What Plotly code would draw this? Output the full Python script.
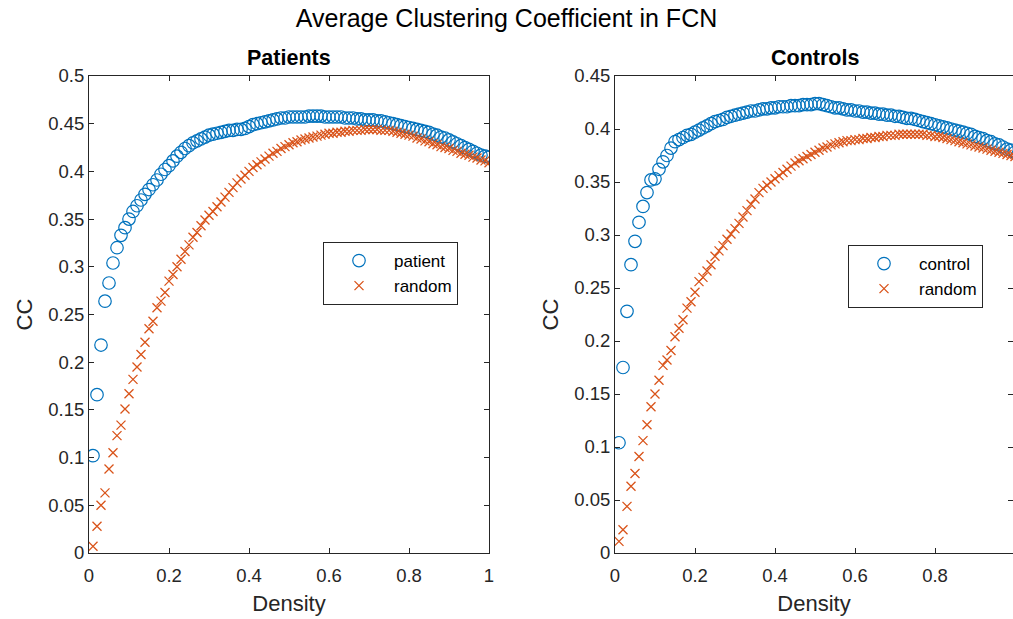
import plotly.graph_objects as go

density = [round(i * 0.01, 2) for i in range(1, 101)]

patient_cc = [
    0.102, 0.166, 0.218, 0.264, 0.283, 0.304, 0.320, 0.333, 0.341, 0.350,
    0.358, 0.364, 0.370, 0.376, 0.381, 0.386, 0.391, 0.397, 0.402, 0.406,
    0.411, 0.416, 0.420, 0.424, 0.427, 0.430, 0.432, 0.434, 0.436, 0.438,
    0.439, 0.440, 0.441, 0.442, 0.443, 0.443, 0.444, 0.444, 0.445, 0.447,
    0.449, 0.450, 0.451, 0.452, 0.453, 0.454, 0.455, 0.456, 0.456, 0.457,
    0.457, 0.457, 0.457, 0.457, 0.458, 0.458, 0.458, 0.458, 0.457, 0.457,
    0.457, 0.457, 0.457, 0.456, 0.456, 0.456, 0.455, 0.455, 0.454, 0.454,
    0.454, 0.453, 0.453, 0.452, 0.451, 0.450, 0.449, 0.448, 0.447, 0.446,
    0.445, 0.444, 0.443, 0.442, 0.441, 0.439, 0.438, 0.436, 0.435, 0.433,
    0.431, 0.429, 0.427, 0.425, 0.423, 0.421, 0.419, 0.417, 0.416, 0.415,
]

patient_random_cc = [
    0.007, 0.028, 0.050, 0.063, 0.088, 0.105, 0.123, 0.134, 0.151, 0.167,
    0.182, 0.195, 0.208, 0.221, 0.235, 0.243, 0.257, 0.264, 0.273, 0.285,
    0.292, 0.300, 0.308, 0.316, 0.323, 0.331, 0.336, 0.343, 0.349, 0.354,
    0.358, 0.363, 0.368, 0.373, 0.378, 0.383, 0.388, 0.392, 0.396, 0.400,
    0.404, 0.407, 0.410, 0.413, 0.416, 0.419, 0.421, 0.424, 0.426, 0.428,
    0.430, 0.431, 0.433, 0.434, 0.435, 0.436, 0.437, 0.438, 0.439, 0.440,
    0.440, 0.441, 0.441, 0.442, 0.442, 0.443, 0.443, 0.443, 0.444, 0.444,
    0.444, 0.444, 0.443, 0.443, 0.443, 0.442, 0.441, 0.440, 0.439, 0.438,
    0.437, 0.435, 0.434, 0.432, 0.431, 0.429, 0.428, 0.426, 0.425, 0.424,
    0.422, 0.421, 0.419, 0.418, 0.417, 0.415, 0.414, 0.412, 0.411, 0.409,
]

control_cc = [
    0.104, 0.175, 0.228, 0.272, 0.294, 0.312, 0.327, 0.340, 0.352, 0.353,
    0.362, 0.369, 0.375, 0.382, 0.388, 0.390, 0.392, 0.394, 0.395, 0.397,
    0.399, 0.401, 0.403, 0.405, 0.407, 0.408, 0.409, 0.411, 0.412, 0.413,
    0.414, 0.415, 0.416, 0.417, 0.417, 0.418, 0.419, 0.419, 0.420, 0.420,
    0.421, 0.421, 0.421, 0.422, 0.422, 0.422, 0.423, 0.423, 0.423, 0.424,
    0.424, 0.423, 0.422, 0.421, 0.420, 0.420, 0.419, 0.418, 0.418, 0.417,
    0.417, 0.416, 0.416, 0.415, 0.415, 0.414, 0.414, 0.413, 0.413, 0.412,
    0.412, 0.411, 0.410, 0.410, 0.409, 0.408, 0.407, 0.406, 0.405, 0.404,
    0.403, 0.402, 0.401, 0.400, 0.399, 0.398, 0.397, 0.396, 0.395, 0.393,
    0.392, 0.391, 0.389, 0.388, 0.386, 0.385, 0.383, 0.381, 0.380, 0.378,
]

control_random_cc = [
    0.011, 0.022, 0.044, 0.063, 0.075, 0.091, 0.106, 0.121, 0.138, 0.150,
    0.163, 0.177, 0.182, 0.191, 0.204, 0.212, 0.220, 0.231, 0.237, 0.246,
    0.256, 0.260, 0.266, 0.272, 0.280, 0.285, 0.290, 0.296, 0.301, 0.306,
    0.311, 0.317, 0.323, 0.329, 0.334, 0.340, 0.344, 0.347, 0.350, 0.353,
    0.356, 0.359, 0.362, 0.365, 0.368, 0.370, 0.372, 0.374, 0.376, 0.378,
    0.380, 0.382, 0.383, 0.385, 0.386, 0.387, 0.388, 0.389, 0.389, 0.390,
    0.390, 0.391, 0.391, 0.392, 0.392, 0.393, 0.393, 0.394, 0.394, 0.394,
    0.395, 0.395, 0.395, 0.395, 0.395, 0.395, 0.395, 0.394, 0.394, 0.393,
    0.393, 0.392, 0.391, 0.390, 0.389, 0.388, 0.387, 0.386, 0.385, 0.384,
    0.383, 0.382, 0.381, 0.380, 0.379, 0.378, 0.377, 0.376, 0.375, 0.374,
]

x_ticks = [0, 0.2, 0.4, 0.6, 0.8, 1]
x_tick_labels = ["0", "0.2", "0.4", "0.6", "0.8", "1"]
y1_ticks = [0, 0.05, 0.1, 0.15, 0.2, 0.25, 0.3, 0.35, 0.4, 0.45, 0.5]
y1_tick_labels = ["0", "0.05", "0.1", "0.15", "0.2", "0.25", "0.3", "0.35", "0.4", "0.45", "0.5"]
y2_ticks = y1_ticks[:-1]
y2_tick_labels = y1_tick_labels[:-1]

BLUE = "#0072BD"
ORANGE = "#D95319"
AX = "#262626"
FONT = "Liberation Sans, Arial, Helvetica, sans-serif"

fig = go.Figure()

circle = dict(symbol="circle-open", size=12.5, color=BLUE, line=dict(width=1.2, color=BLUE))
cross = dict(symbol="x-thin-open", size=9, color=ORANGE, line=dict(width=1.3, color=ORANGE))

fig.add_trace(go.Scatter(x=density, y=patient_cc, mode="markers", marker=circle,
                         name="patient", xaxis="x", yaxis="y", legend="legend"))
fig.add_trace(go.Scatter(x=density, y=patient_random_cc, mode="markers", marker=cross,
                         name="random", xaxis="x", yaxis="y", legend="legend"))
fig.add_trace(go.Scatter(x=density, y=control_cc, mode="markers", marker=circle,
                         name="control", xaxis="x2", yaxis="y2", legend="legend2"))
fig.add_trace(go.Scatter(x=density, y=control_random_cc, mode="markers", marker=cross,
                         name="random", xaxis="x2", yaxis="y2", legend="legend2"))

W, H = 1013, 619
ML, MR, MT, MB = 89, 0, 76, 66
PW = W - ML - MR
PH = H - MT - MB

def px_x(p):
    return (p - ML) / PW

def px_y(p):
    return (H - MB - p) / PH

common_axis = dict(showline=True, linecolor=AX, linewidth=1, mirror="ticks",
                   ticks="inside", ticklen=5, tickcolor=AX, tickwidth=1,
                   showgrid=False, zeroline=False,
                   tickfont=dict(size=18.5, color=AX, family=FONT))

xtitle = dict(text="Density", font=dict(size=22, color=AX, family=FONT), standoff=10)
ytitle = dict(text="CC", font=dict(size=22, color=AX, family=FONT), standoff=9)

fig.update_layout(
    width=W, height=H,
    margin=dict(l=ML, r=MR, t=MT, b=MB, autoexpand=False),
    paper_bgcolor="white", plot_bgcolor="white",
    font=dict(family=FONT, color=AX),
    title=dict(text="Average Clustering Coefficient in FCN", x=0.5, xanchor="center",
               y=1 - 18 / H, yanchor="middle", yref="container",
               font=dict(size=25, color="black", family=FONT)),
    xaxis=dict(domain=[0, px_x(489)], range=[0, 1], tickvals=x_ticks, ticktext=x_tick_labels,
               ticklabelstandoff=6, title=xtitle, anchor="y", **common_axis),
    yaxis=dict(domain=[0, 1], range=[0, 0.5], tickvals=y1_ticks, ticktext=y1_tick_labels,
               title=ytitle, anchor="x", **common_axis),
    xaxis2=dict(domain=[px_x(615), 1], range=[0, 0.995], tickvals=x_ticks, ticktext=x_tick_labels,
                ticklabelstandoff=6, title=xtitle, anchor="y2", **common_axis),
    yaxis2=dict(domain=[0, 1], range=[0, 0.45], tickvals=y2_ticks, ticktext=y2_tick_labels,
                title=ytitle, anchor="x2", **common_axis),
    legend=dict(x=px_x(323), y=px_y(242), xanchor="left", yanchor="top",
                bgcolor="white", bordercolor=AX, borderwidth=1,
                font=dict(size=17, color="black", family=FONT), itemwidth=60,
                tracegroupgap=0),
    legend2=dict(x=px_x(848), y=px_y(245), xanchor="left", yanchor="top",
                 bgcolor="white", bordercolor=AX, borderwidth=1,
                 font=dict(size=17, color="black", family=FONT), itemwidth=60,
                 tracegroupgap=0),
    annotations=[
        dict(text="<b>Patients</b>", x=(px_x(89) + px_x(489)) / 2, y=px_y(58),
             xref="paper", yref="paper", xanchor="center", yanchor="middle",
             showarrow=False, font=dict(size=21.5, color="black", family=FONT)),
        dict(text="<b>Controls</b>", x=(px_x(615) + px_x(1015)) / 2, y=px_y(58),
             xref="paper", yref="paper", xanchor="center", yanchor="middle",
             showarrow=False, font=dict(size=21.5, color="black", family=FONT)),
    ],
)

fig.write_html("out.html")
